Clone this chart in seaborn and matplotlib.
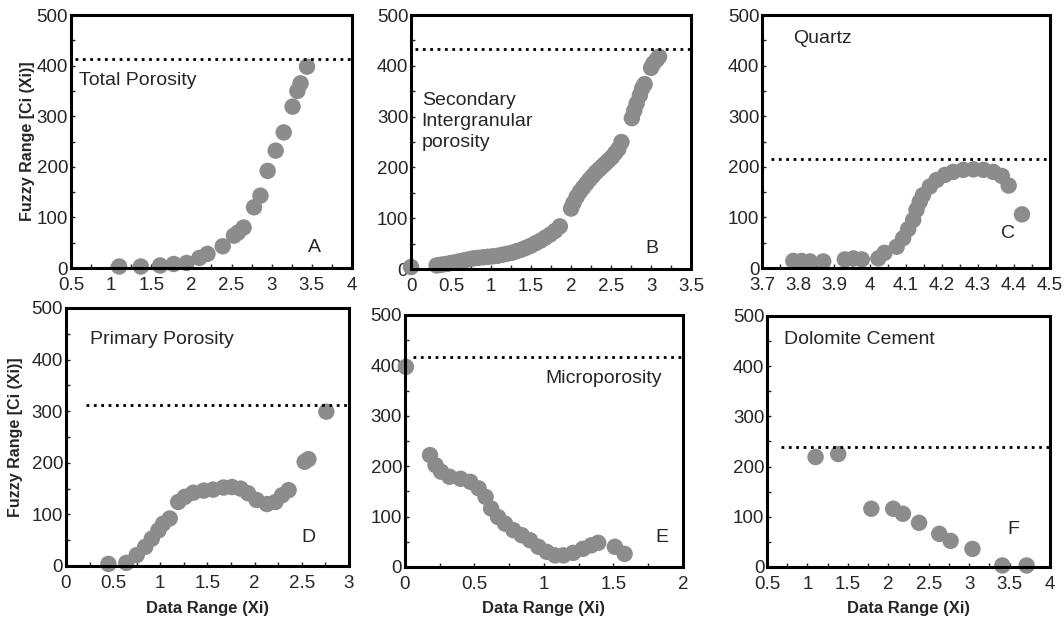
import pandas as pd
import matplotlib
matplotlib.use("Agg")
import matplotlib.pyplot as plt
from matplotlib.ticker import MultipleLocator, FuncFormatter
import seaborn as sns

sns.set_style("white")
plt.rcParams['font.family'] = ['Liberation Sans', 'DejaVu Sans']

# A - total porosity
a_x = [1.10, 1.37, 1.61, 1.78, 1.94, 2.10, 2.20, 2.39, 2.53, 2.58, 2.65, 2.78, 2.86, 2.95,
       3.05, 3.15, 3.26, 3.32, 3.36, 3.44]
a_y = [3, 3, 5, 8, 10, 20, 28, 43, 64, 70, 80, 120, 143, 192, 232, 268, 319, 350, 365, 398]
a_cut = 413

# B - secondary intergranular porosity
b_x = [0.0, 0.32, 0.36, 0.40, 0.45, 0.50, 0.55, 0.60, 0.66, 0.72, 0.78, 0.84, 0.90, 0.96,
       1.02, 1.08, 1.14, 1.20, 1.26, 1.32, 1.38, 1.44, 1.50, 1.56, 1.62, 1.68, 1.74, 1.80,
       1.86, 2.00, 2.03, 2.07, 2.11, 2.15, 2.19, 2.23, 2.27, 2.31, 2.35, 2.39, 2.43, 2.47,
       2.51, 2.55, 2.59, 2.63, 2.76, 2.79, 2.82, 2.86, 2.89, 2.92, 3.00, 3.03, 3.07, 3.10]
b_y = [4, 7, 8, 9, 10, 12, 13, 15, 17, 19, 21, 22, 23, 24, 25, 26, 28, 30, 32, 35, 38, 42,
       46, 51, 56, 62, 68, 75, 84, 119, 130, 142, 152, 160, 168, 176, 183, 190, 196, 202,
       208, 214, 220, 228, 236, 250, 297, 312, 326, 342, 356, 364, 396, 405, 412, 418]
b_cut = 434

# C - quartz
c_x = [3.787, 3.81, 3.833, 3.87, 3.93, 3.954, 3.977, 4.023, 4.04, 4.074, 4.092, 4.106,
       4.12, 4.129, 4.138, 4.147, 4.166, 4.185, 4.208, 4.231, 4.259, 4.287, 4.315, 4.342,
       4.366, 4.385, 4.422]
c_y = [14, 14, 13, 13, 17, 19, 17, 19, 30, 42, 59, 77, 95, 115, 131, 144, 161, 174, 184,
       190, 194, 195, 194, 190, 182, 163, 106]
c_cut = 215

# D - primary porosity
d_x = [0.45, 0.64, 0.75, 0.84, 0.91, 0.98, 1.03, 1.10, 1.19, 1.26, 1.35, 1.46, 1.56, 1.67,
       1.76, 1.85, 1.93, 2.02, 2.13, 2.22, 2.29, 2.36, 2.53, 2.57, 2.76]
d_y = [4, 6, 21, 37, 53, 69, 82, 92, 124, 134, 142, 146, 148, 152, 153, 150, 141, 128, 120,
       124, 137, 147, 202, 207, 299]
d_cut = 312

# E - microporosity
e_x = [0.007, 0.18, 0.22, 0.26, 0.32, 0.40, 0.47, 0.53, 0.58, 0.62, 0.67, 0.72, 0.78, 0.84,
       0.90, 0.96, 1.02, 1.08, 1.14, 1.21, 1.28, 1.34, 1.39, 1.51, 1.58]
e_y = [397, 222, 202, 189, 179, 175, 169, 156, 139, 116, 99, 86, 73, 63, 53, 40, 30, 23, 23,
       28, 36, 43, 48, 40, 26]
e_cut = 417

# F - dolomite cement
f_x = [1.10, 1.38, 1.79, 2.06, 2.18, 2.38, 2.63, 2.77, 3.04, 3.41, 3.71]
f_y = [219, 225, 116, 116, 106, 88, 66, 52, 36, 3, 3]
f_cut = 238

panels = [
    # data, cut, xlim, major, minor, rect, line start, label, label pos, letter, letter pos
    (a_x, a_y, a_cut, (0.5, 4), 0.5, 0.25, [0.0667, 0.5684, 0.2641, 0.4074], 0.015,
     "Total Porosity", (0.03, 370), "A", (3.53, 41)),
    (b_x, b_y, b_cut, (0, 3.5), 0.5, 0.25, [0.3863, 0.5668, 0.2632, 0.4090], 0.015,
     "Secondary\nIntergranular\nporosity", (0.038, 290), "B", (3.01, 41)),
    (c_x, c_y, c_cut, (3.7, 4.5), 0.1, 0.05, [0.7162, 0.5684, 0.2707, 0.4074], 0.03,
     "Quartz", (0.108, 454), "C", (4.384, 69)),
    (d_x, d_y, d_cut, (0, 3), 0.5, 0.25, [0.0620, 0.0886, 0.2660, 0.4155], 0.07,
     "Primary Porosity", (0.085, 438), "D", (2.57, 55)),
    (e_x, e_y, e_cut, (0, 2), 0.5, 0.25, [0.3806, 0.0870, 0.2613, 0.4058], 0.03,
     "Microporosity", (0.504, 374), "E", (1.85, 58)),
    (f_x, f_y, f_cut, (0.5, 4), 0.5, 0.25, [0.7209, 0.0870, 0.2660, 0.4042], 0.05,
     "Dolomite Cement", (0.059, 453), "F", (3.55, 74)),
]
ylabel_x = {0: -0.153, 3: -0.180}

fig = plt.figure(figsize=(10.64, 6.21), dpi=100)
fmt = FuncFormatter(lambda v, p: f"{v:g}")

for i, (xs, ys, cut, xlim, maj, mnr, rect, x0, label, lpos, letter, lett) in enumerate(panels):
    ax = fig.add_axes(rect)
    df = pd.DataFrame({"x": xs, "y": ys})
    sns.scatterplot(data=df, x="x", y="y", ax=ax, s=140, color="#8c8c8c",
                    edgecolor="none", linewidth=0, clip_on=False, zorder=1)
    ax.axhline(cut, xmin=x0, xmax=1, color="black", linestyle=":", linewidth=2)
    ax.set_xlim(*xlim)
    ax.set_ylim(0, 500)
    ax.xaxis.set_major_locator(MultipleLocator(maj))
    ax.xaxis.set_minor_locator(MultipleLocator(mnr))
    ax.yaxis.set_major_locator(MultipleLocator(100))
    ax.yaxis.set_minor_locator(MultipleLocator(50))
    ax.xaxis.set_major_formatter(fmt)
    ax.tick_params(which="both", direction="in", length=3, width=1, labelsize=13.5,
                   bottom=True, left=True, top=False, right=False)
    ax.tick_params(axis="x", pad=6.5)
    ax.tick_params(axis="y", pad=2)
    for sp in ax.spines.values():
        sp.set_linewidth(2.2)
        sp.set_color("black")
    ax.text(lpos[0], lpos[1], label, transform=ax.get_yaxis_transform(),
            fontsize=14, va="center", ha="left", linespacing=1.3)
    ax.text(lett[0], lett[1], letter, fontsize=14, va="center", ha="center")
    if i >= 3:
        ax.set_xlabel("Data Range (Xi)", fontsize=12, fontweight="bold", va="center")
        ax.xaxis.set_label_coords(0.5, -0.165)
    else:
        ax.set_xlabel("")
    if i in ylabel_x:
        ax.set_ylabel("Fuzzy Range [Ci (Xi)]", fontsize=11.5, fontweight="bold",
                      va="center")
        ax.yaxis.set_label_coords(ylabel_x[i], 0.5)
    else:
        ax.set_ylabel("")

fig.savefig("out.png", dpi=100)
